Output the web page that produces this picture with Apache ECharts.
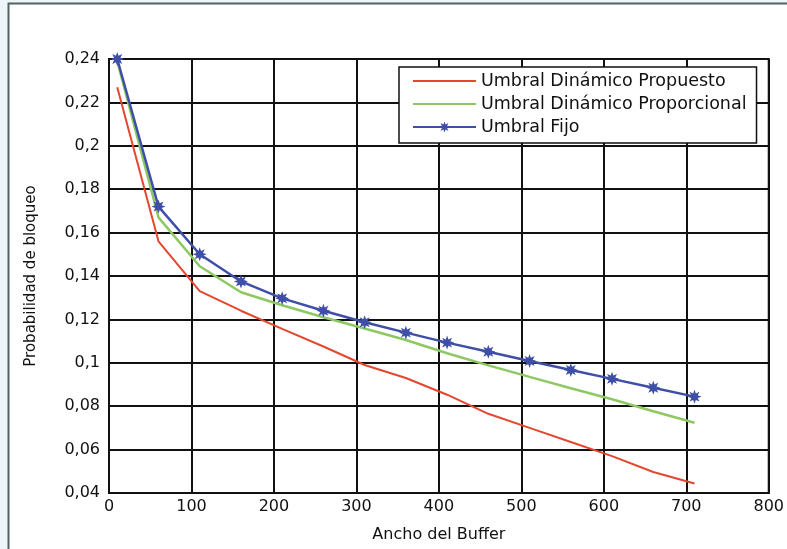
<!DOCTYPE html>
<html>
<head>
<meta charset="utf-8">
<script src="https://cdn.jsdelivr.net/npm/echarts@6/dist/echarts.min.js"></script>
<style>
html,body{margin:0;padding:0;background:#eef5f9;}
#c{width:787px;height:549px;}
</style>
</head>
<body>
<div id="c"></div>
<script>
const bufferWidth = [10, 60, 110, 160, 210, 260, 310, 360, 410, 460, 510, 560, 610, 660, 710];
const propuesto = [0.227, 0.156, 0.133, 0.124, 0.1156, 0.1075, 0.099, 0.093, 0.0853, 0.0765, 0.0700, 0.0635, 0.0570, 0.0497, 0.0444];
const proporcional = [0.239, 0.167, 0.1445, 0.1325, 0.1265, 0.121, 0.1158, 0.1105, 0.1044, 0.0988, 0.0935, 0.0883, 0.0832, 0.0777, 0.0724];
const fijo = [0.240, 0.172, 0.150, 0.1375, 0.1297, 0.124, 0.1187, 0.1139, 0.1093, 0.1051, 0.1008, 0.0967, 0.0926, 0.0885, 0.0844];
const seriesNames = ['Umbral Dinámico Propuesto', 'Umbral Dinámico Proporcional', 'Umbral Fijo'];
const xAxisTitle = 'Ancho del Buffer';
const yAxisTitle = 'Probabilidad de bloqueo';

const pairs = ys => bufferWidth.map((x, i) => [x, ys[i]]);
// 8-point star, outer radius 10, inner radius 5
const starPath = 'path://M10,0L11.91,5.38L17.07,2.93L14.62,8.09L20,10L14.62,11.91L17.07,17.07L11.91,14.62L10,20L8.09,14.62L2.93,17.07L5.38,11.91L0,10L5.38,8.09L2.93,2.93L8.09,5.38Z';
const FONT = 'DejaVu Sans';
const noSym = {color: 'rgba(0,0,0,0)', borderColor: 'rgba(0,0,0,0)', borderWidth: 0};

const chart = echarts.init(document.getElementById('c'), null, {renderer: 'canvas'});
chart.setOption({
  backgroundColor: '#eef5f9',
  animation: false,
  graphic: [{
    type: 'rect', z: -10, silent: true,
    shape: {x: 8.5, y: 3.5, width: 820, height: 580},
    style: {fill: '#ffffff', stroke: '#52625f', lineWidth: 2}
  }],
  grid: {left: 109, top: 59, right: 16, bottom: 56, show: true, borderColor: '#111', borderWidth: 2, backgroundColor: 'transparent'},
  legend: {
    orient: 'vertical', left: 399, top: 67,
    padding: [5, 10, 7, 13],
    backgroundColor: '#fff', borderColor: '#111', borderWidth: 1.5, borderRadius: 0,
    itemWidth: 63, itemHeight: 14, itemGap: 5,
    textStyle: {fontFamily: FONT, fontSize: 17.5, color: '#111', lineHeight: 18},
    data: [
      {name: seriesNames[0], itemStyle: noSym},
      {name: seriesNames[1], itemStyle: noSym},
      {name: seriesNames[2]}
    ]
  },
  xAxis: {
    type: 'value', min: 0, max: 800, interval: 100,
    name: xAxisTitle, nameLocation: 'middle', nameGap: 34,
    nameTextStyle: {fontFamily: FONT, fontSize: 16, color: '#111'},
    axisLine: {show: true, lineStyle: {color: '#111', width: 2}},
    axisTick: {show: false},
    axisLabel: {fontFamily: FONT, fontSize: 16, color: '#111', margin: 6},
    splitLine: {show: true, lineStyle: {color: '#111', width: 2}}
  },
  yAxis: {
    type: 'value', min: 0.04, max: 0.24, interval: 0.02,
    name: yAxisTitle, nameLocation: 'middle', nameGap: 70,
    nameTextStyle: {fontFamily: FONT, fontSize: 15, color: '#111'},
    axisLine: {show: true, lineStyle: {color: '#111', width: 2}},
    axisTick: {show: false},
    axisLabel: {fontFamily: FONT, fontSize: 16, color: '#111', margin: 9,
      formatter: v => String(+v.toFixed(2)).replace('.', ',')},
    splitLine: {show: true, lineStyle: {color: '#111', width: 2}}
  },
  series: [
    {name: seriesNames[0], type: 'line', data: pairs(propuesto), symbol: 'none',
     lineStyle: {color: '#e5462e', width: 2}, itemStyle: {color: '#e5462e'}},
    {name: seriesNames[1], type: 'line', data: pairs(proporcional), symbol: 'none',
     lineStyle: {color: '#8dc863', width: 2.5}, itemStyle: {color: '#8dc863'}},
    {name: seriesNames[2], type: 'line', data: pairs(fijo), symbol: starPath, symbolSize: 14,
     showAllSymbol: true,
     lineStyle: {color: '#3f4fa8', width: 2.5}, itemStyle: {color: '#3f4fa8'}}
  ]
});
</script>
</body>
</html>
